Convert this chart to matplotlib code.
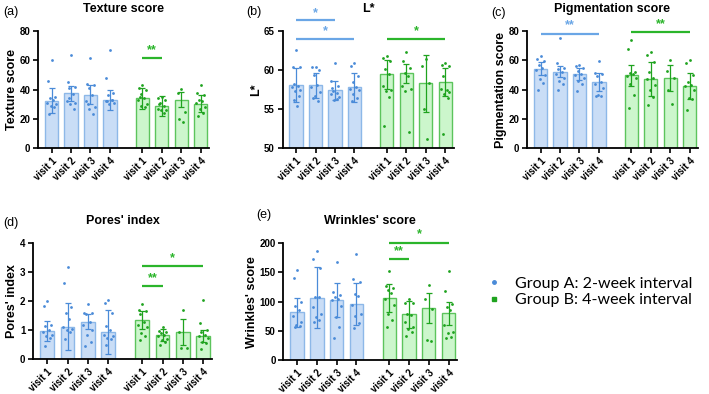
import matplotlib
matplotlib.use("Agg")
import matplotlib.pyplot as plt
from matplotlib.lines import Line2D
import numpy as np

plt.rcParams['font.family'] = ['Liberation Sans', 'DejaVu Sans']

visits = ["visit 1", "visit 2", "visit 3", "visit 4"]

# texture score
tex_mean_a = [32.5, 37.5, 36.6, 32.7]
tex_sd_a = [8.4, 5.0, 6.6, 6.8]
tex_pts_a = [[60, 46, 35, 34, 33, 31, 30, 29, 28, 23],
             [63.5, 45, 42, 41, 37, 32, 31, 30, 27, 34],
             [62, 44, 43, 41, 36, 32, 28, 27, 23, 30],
             [67, 48, 38, 36, 33, 32, 31, 30, 33, 32]]
tex_mean_b = [34.0, 28.8, 33.0, 30.4]
tex_sd_b = [7.0, 6.6, 5.2, 5.9]
tex_pts_b = [[43, 41, 40, 37, 34, 33, 30, 29, 28, 35],
             [35, 34, 33, 31, 29, 27, 26, 26, 24, 30],
             [40.5, 37.5, 25, 20, 18],
             [43, 38, 36, 33, 32, 31, 28, 27, 24, 22]]

# L*
l_mean_a = [58.14, 58.06, 57.4, 57.8]
l_sd_a = [2.2, 1.6, 1.2, 1.9]
l_pts_a = [[62.6, 60.4, 60.4, 58.2, 58.0, 57.9, 57.5, 57.3, 56.7, 56.2, 55.4],
           [60.4, 60.4, 60.0, 59.4, 58.1, 57.8, 57.2, 56.7, 56.1, 56.4],
           [60.9, 58.6, 58.0, 57.3, 57.1, 56.9, 56.6, 56.2, 56.3, 57.7],
           [60.9, 60.5, 59.3, 58.5, 57.9, 57.6, 57.5, 57.0, 56.4, 56.0]]
l_mean_b = [59.47, 59.6, 58.3, 58.5]
l_sd_b = [1.85, 1.2, 3.7, 1.8]
l_pts_b = [[61.8, 61.6, 61.2, 60.1, 59.5, 58.0, 57.5, 57.3, 56.6, 52.8],
           [62.3, 61.2, 60.3, 59.6, 59.2, 58.0, 57.6, 57.3, 52.1],
           [61.5, 60.5, 58.4, 55.0, 51.2],
           [60.9, 60.7, 60.5, 59.3, 57.5, 57.6, 57.2, 56.9, 56.4, 51.8]]

# pigmentation
pig_mean_a = [54.4, 52.3, 50.7, 45.3]
pig_sd_a = [4.3, 3.9, 4.1, 6.1]
pig_pts_a = [[63, 61, 59.5, 57, 55, 53.5, 50, 47, 44.5, 40],
             [75.5, 58.5, 55, 54, 52, 50.5, 48, 46, 44, 40],
             [57, 56.5, 54.5, 53, 51, 50, 48, 46, 44, 39],
             [59.5, 51.5, 51, 49.5, 45, 44, 41, 36.5, 35.7, 35.5]]
pig_mean_b = [49.8, 47.3, 47.8, 42.5]
pig_sd_b = [7.1, 11.7, 8.9, 8.7]
pig_pts_b = [[74, 68, 52, 51.5, 50.5, 49.5, 48, 44, 36.5, 27.5],
             [65.5, 64, 59, 52, 48, 47, 43, 40, 35, 29.5],
             [60, 53, 48, 39.5, 30.5],
             [60.5, 58, 50, 45.5, 43, 42.5, 40, 34, 33.5, 26]]

# pores
por_mean_a = [0.97, 1.13, 1.30, 0.93]
por_sd_a = [0.34, 0.80, 0.27, 0.76]
por_pts_a = [[2.0, 1.85, 1.2, 1.15, 1.0, 0.95, 0.85, 0.8, 0.75, 0.45],
             [3.2, 2.63, 1.8, 1.6, 1.4, 1.1, 1.05, 1.0, 0.95, 0.7],
             [1.9, 1.6, 1.6, 1.55, 1.3, 1.2, 1.0, 0.85, 0.6, 0.45],
             [2.05, 1.95, 1.6, 1.15, 1.0, 0.85, 0.8, 0.75, 0.7, 0.5]]
por_mean_b = [1.36, 0.83, 0.94, 0.80]
por_sd_b = [0.31, 0.20, 0.45, 0.20]
por_pts_b = [[1.9, 1.7, 1.65, 1.55, 1.3, 1.2, 1.1, 0.9, 0.8, 0.65],
             [1.13, 0.98, 0.95, 0.9, 0.85, 0.8, 0.7, 0.65, 0.6, 0.5],
             [1.7, 0.95, 0.4, 0.38],
             [2.05, 1.25, 1.0, 0.95, 0.85, 0.8, 0.75, 0.6, 0.55, 0.35]]

# wrinkles
wri_mean_a = [82, 107, 103, 96]
wri_sd_a = [25, 52, 29, 36]
wri_pts_a = [[155, 140, 100, 93, 85, 75, 65, 60, 58, 56],
             [186, 173, 157, 108, 108, 90, 78, 73, 68, 65],
             [168, 117, 112, 108, 105, 102, 92, 73, 57, 38],
             [181, 138, 133, 113, 110, 95, 79, 76, 63, 55]]
wri_mean_b = [106, 78, 89, 80]
wri_sd_b = [24, 23, 26, 20]
wri_pts_b = [[153, 126, 123, 120, 114, 105, 94, 78, 68, 56],
             [105, 98, 97, 78, 77, 65, 57, 53, 48, 41],
             [129, 105, 88, 34, 32],
             [153, 118, 96, 91, 85, 60, 48, 46, 40, 37]]

blue_fill, blue_edge, blue_pt = "#c9ddf6", "#8db8e8", "#4a8bd8"
green_fill, green_edge, green_pt = "#ccf6cc", "#5cc45c", "#1fa31f"
sig_blue, sig_green = "#6aa6e6", "#2bb52b"

pos_a = np.array([0, 1, 2, 3])
pos_b = pos_a + 4.67
jit = [0, -0.18, 0.18, -0.09, 0.09, -0.22, 0.22, -0.05, 0.13, -0.13, 0.05]

W, H = 709, 394
fig = plt.figure(figsize=(7.09, 3.94), dpi=100)


def make_ax(left, top, right, bottom):
    return fig.add_axes([left / W, 1 - bottom / H, (right - left) / W, (bottom - top) / H])


def panel(ax, ma, sa, pa, mb, sb, pb, ylim, yticks, ylabel, title, letter, letter_xy, sigs):
    for pos, means, sds, pts, fc, ec, pc in [(pos_a, ma, sa, pa, blue_fill, blue_edge, blue_pt),
                                             (pos_b, mb, sb, pb, green_fill, green_edge, green_pt)]:
        ax.bar(pos, np.array(means) - ylim[0], bottom=ylim[0], width=0.68, color=fc,
               edgecolor=ec, linewidth=1.0, zorder=1)
        ax.errorbar(pos, means, yerr=sds, fmt="none", ecolor=pc, elinewidth=0.9,
                    capsize=2.5, capthick=0.9, zorder=2)
        for x, vals in zip(pos, pts):
            xs = [x + jit[i % len(jit)] for i in range(len(vals))]
            ax.scatter(xs, vals, s=4, color=pc, zorder=3, linewidths=0, clip_on=False)
    for x1, x2, y, ytxt, txt, col in sigs:
        ax.plot([x1, x2], [y, y], color=col, lw=1.6, clip_on=False, solid_capstyle="butt")
        ax.text((x1 + x2) / 2, ytxt, txt, color=col, ha="center", va="center",
                fontsize=9, fontweight="bold", clip_on=False)
    ax.set_xlim(-0.7, 8.1)
    ax.set_ylim(*ylim)
    ax.set_yticks(yticks)
    ax.set_xticks(list(pos_a) + list(pos_b))
    ax.set_xticklabels(visits * 2, rotation=45, ha="right", rotation_mode="anchor")
    for s in ["top", "right"]:
        ax.spines[s].set_visible(False)
    for s in ["left", "bottom"]:
        ax.spines[s].set_linewidth(1.3)
    ax.tick_params(axis="both", width=1.2, length=3.5, labelsize=7, pad=2)
    for lab in ax.get_xticklabels() + ax.get_yticklabels():
        lab.set_fontweight("bold")
    ax.set_ylabel(ylabel, fontsize=9, fontweight="bold", labelpad=1)
    ax.set_title(title, fontsize=9, fontweight="bold", pad=14)
    fig.text(letter_xy[0] / W, 1 - letter_xy[1] / H, letter, fontsize=9, va="center")


ax1 = make_ax(38, 31.3, 209, 148)
panel(ax1, tex_mean_a, tex_sd_a, tex_pts_a, tex_mean_b, tex_sd_b, tex_pts_b,
      (0, 80), [0, 20, 40, 60, 80], "Texture score", "Texture score", "(a)", (3, 12),
      [(pos_b[0], pos_b[1], 61.5, 67, "**", sig_green)])

ax2 = make_ax(282.5, 31.3, 453.5, 148)
panel(ax2, l_mean_a, l_sd_a, l_pts_a, l_mean_b, l_sd_b, l_pts_b,
      (50, 65), [50, 55, 60, 65], "L*", "L*", "(b)", (246, 12),
      [(pos_a[0], pos_a[2], 66.4, 67.3, "*", sig_blue),
       (pos_a[0], pos_a[3], 64.0, 65.0, "*", sig_blue),
       (pos_b[0], pos_b[3], 64.0, 65.0, "*", sig_green)])

ax3 = make_ax(527, 31.3, 698, 148)
panel(ax3, pig_mean_a, pig_sd_a, pig_pts_a, pig_mean_b, pig_sd_b, pig_pts_b,
      (0, 80), [0, 20, 40, 60, 80], "Pigmentation score", "Pigmentation score", "(c)", (491, 13),
      [(pos_a[0], pos_a[3], 78.4, 84.3, "**", sig_blue),
       (pos_b[0], pos_b[3], 79.3, 85.0, "**", sig_green)])

ax4 = make_ax(33, 243.3, 212, 359.3)
panel(ax4, por_mean_a, por_sd_a, por_pts_a, por_mean_b, por_sd_b, por_pts_b,
      (0, 4), [0, 1, 2, 3, 4], "Pores' index", "Pores' index", "(d)", (3, 223),
      [(pos_b[0], pos_b[1], 2.53, 2.8, "**", sig_green),
       (pos_b[0], pos_b[3], 3.23, 3.5, "*", sig_green)])

ax5 = make_ax(283.3, 243.3, 457, 360)
panel(ax5, wri_mean_a, wri_sd_a, wri_pts_a, wri_mean_b, wri_sd_b, wri_pts_b,
      (0, 200), [0, 50, 100, 150, 200], "Wrinkles' score", "Wrinkles' score", "(e)", (256, 215),
      [(pos_b[0], pos_b[1], 173, 186, "**", sig_green),
       (pos_b[0], pos_b[3], 201, 215, "*", sig_green)])

handles = [Line2D([], [], marker="o", ls="none", color=blue_pt, markersize=2.5),
           Line2D([], [], marker="s", ls="none", color=green_pt, markersize=2.5)]
fig.legend(handles, ["Group A: 2-week interval", "Group B: 4-week interval"],
           loc="center left", bbox_to_anchor=(473 / W, 1 - 292 / H), frameon=False,
           prop={"family": "Lato", "size": 11.5}, handlelength=0.8, handletextpad=0.9,
           labelspacing=0.15)

fig.savefig("out.png", dpi=100)
